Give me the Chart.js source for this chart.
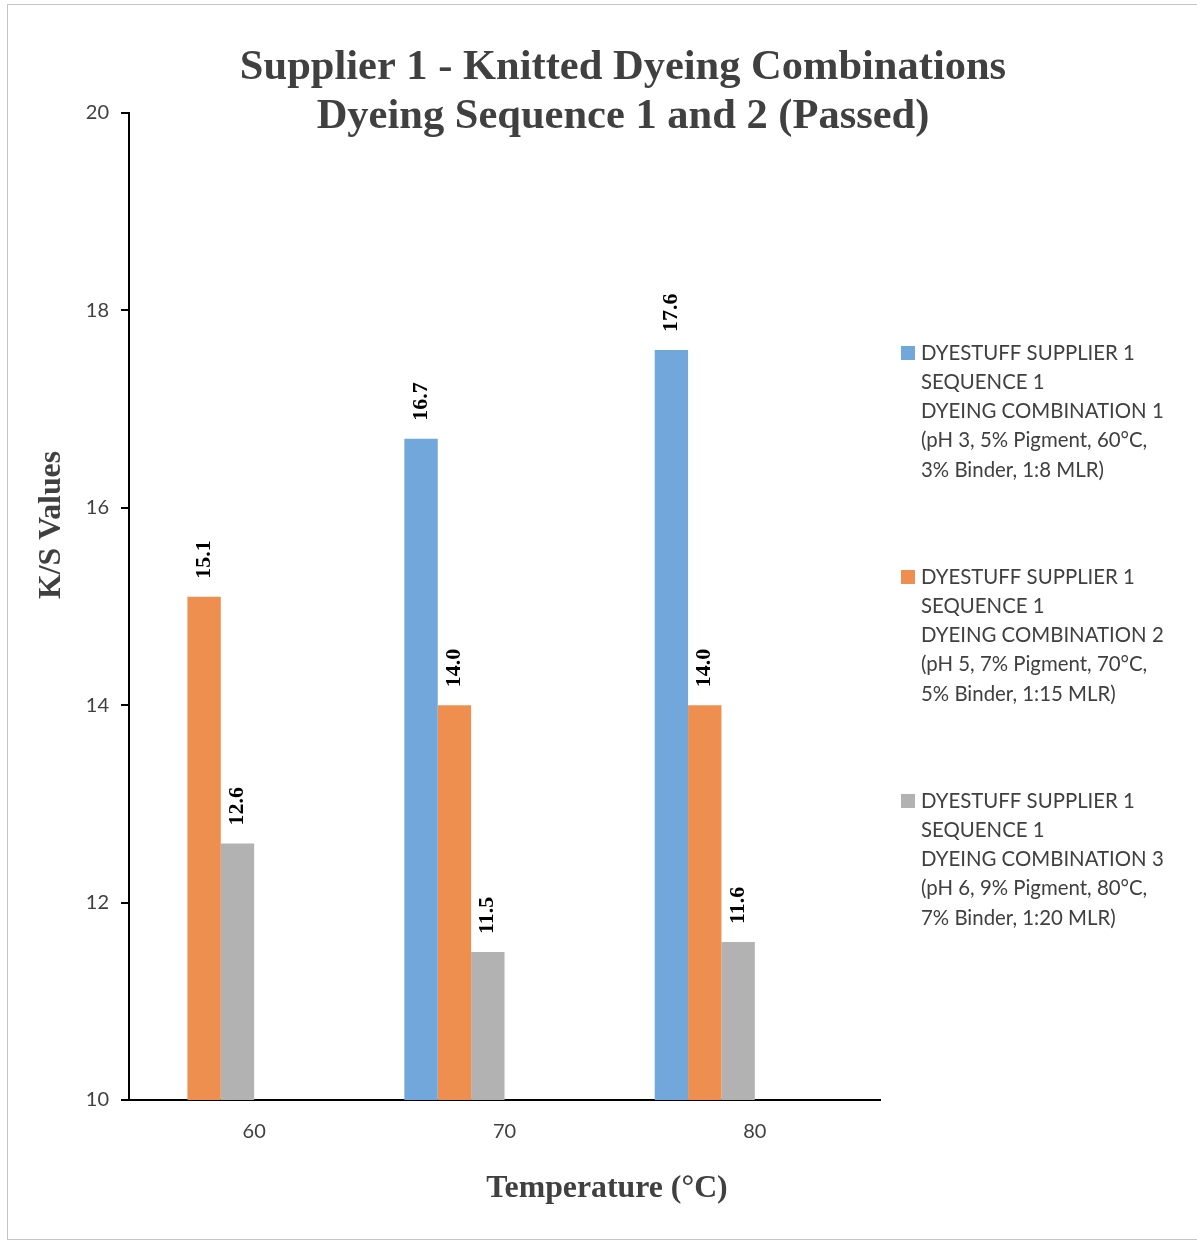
<!DOCTYPE html>
<html>
<head>
<meta charset="utf-8">
<script src="https://cdn.jsdelivr.net/npm/chart.js@4.4.1/dist/chart.umd.min.js"></script>
<style>
  html, body { margin: 0; padding: 0; background: #fff; }
  #wrap { width: 1197px; height: 1242px; }
</style>
</head>
<body>
<div id="wrap"><canvas id="ksChart"></canvas></div>
<script>
const temperatures = ["60", "70", "80"];

const seriesNames = [
  ["DYESTUFF SUPPLIER 1", "SEQUENCE 1", "DYEING COMBINATION 1", "(pH 3, 5% Pigment, 60°C,", "3% Binder, 1:8 MLR)"],
  ["DYESTUFF SUPPLIER 1", "SEQUENCE 1", "DYEING COMBINATION 2", "(pH 5, 7% Pigment, 70°C,", "5% Binder, 1:15 MLR)"],
  ["DYESTUFF SUPPLIER 1", "SEQUENCE 1", "DYEING COMBINATION 3", "(pH 6, 9% Pigment, 80°C,", "7% Binder, 1:20 MLR)"],
];

// K/S values per temperature
const combination1 = [null, 16.7, 17.6];
const combination2 = [15.1, 14.0, 14.0];
const combination3 = [12.6, 11.5, 11.6];
// sequence 2 series sit below the axis minimum
const sequence2a = [null, null, null];
const sequence2b = [null, null, null];
const sequence2c = [null, null, null];

const yTicks = { min: 10, max: 20, step: 2 };

const barColors = ["#71a7db", "#ef8f4f", "#b2b2b2"];
const textGray = "#404040";

const datasets = [
  { label: seriesNames[0], data: combination1, backgroundColor: barColors[0] },
  { label: seriesNames[1], data: combination2, backgroundColor: barColors[1] },
  { label: seriesNames[2], data: combination3, backgroundColor: barColors[2] },
  { label: "seq2-1", data: sequence2a, backgroundColor: barColors[0], hiddenEntry: true },
  { label: "seq2-2", data: sequence2b, backgroundColor: barColors[1], hiddenEntry: true },
  { label: "seq2-3", data: sequence2c, backgroundColor: barColors[2], hiddenEntry: true },
];

const frameAndText = {
  id: "frameAndText",
  beforeDraw(chart) {
    const c = chart.ctx;
    c.save();
    c.fillStyle = "#fff";
    c.fillRect(0, 0, chart.width, chart.height);
    c.strokeStyle = "#c4c4c4";
    c.lineWidth = 1;
    c.strokeRect(7.5, 4.5, chart.width, chart.height - 7);
    c.restore();
  },
  afterDraw(chart) {
    const c = chart.ctx;
    c.save();
    c.fillStyle = textGray;
    c.textAlign = "center";
    c.textBaseline = "middle";

    // title
    c.font = "bold 42.5px 'Liberation Serif'";
    c.fillText("Supplier 1 - Knitted Dyeing Combinations", 623, 68);
    c.fillText("Dyeing Sequence 1 and 2 (Passed)", 623, 117);

    // axis titles
    c.font = "bold 31.8px 'Liberation Serif'";
    c.fillText("Temperature (°C)", 607, 1189);
    c.save();
    c.translate(52, 525);
    c.rotate(-Math.PI / 2);
    c.fillText("K/S Values", 0, 0);
    c.restore();

    // value labels above each bar
    c.fillStyle = "#000";
    c.font = "bold 22px 'Liberation Serif'";
    c.textAlign = "left";
    chart.data.datasets.forEach((ds, i) => {
      const meta = chart.getDatasetMeta(i);
      meta.data.forEach((bar, j) => {
        const v = ds.data[j];
        if (v == null || v <= yTicks.min) return;
        c.save();
        c.translate(bar.x, bar.y - 18);
        c.rotate(-Math.PI / 2);
        c.fillText(v.toFixed(1), 0, 0);
        c.restore();
      });
    });

    // legend on the right
    c.font = "20.4px Lato";
    c.textBaseline = "middle";
    c.textAlign = "left";
    chart.data.datasets.forEach((ds, i) => {
      if (ds.hiddenEntry) return;
      const top = 353 + i * 224;
      c.fillStyle = ds.backgroundColor;
      c.fillRect(901, top - 7, 14, 14);
      c.fillStyle = textGray;
      ds.label.forEach((line, k) => {
        c.fillText(line, 921, top + k * 29.3);
      });
    });
    c.restore();
  },
};

new Chart(document.getElementById("ksChart"), {
  type: "bar",
  data: { labels: temperatures, datasets: datasets },
  plugins: [frameAndText],
  options: {
    responsive: true,
    maintainAspectRatio: false,
    animation: false,
    layout: { padding: { top: 113, right: 317, left: 0, bottom: 0 } },
    datasets: { bar: { categoryPercentage: 0.8, barPercentage: 1.0 } },
    plugins: { legend: { display: false }, title: { display: false }, tooltip: { enabled: false } },
    scales: {
      x: {
        grid: { drawOnChartArea: false, drawTicks: false },
        border: { display: true, color: "#000", width: 2 },
        ticks: { color: textGray, font: { family: "Lato", size: 20 }, padding: 20 },
        afterFit(scale) { scale.height = 142; },
      },
      y: {
        min: yTicks.min,
        max: yTicks.max,
        grid: { drawOnChartArea: false, drawTicks: true, tickLength: 8, color: "#000", lineWidth: 2 },
        border: { display: true, color: "#000", width: 2 },
        ticks: { stepSize: yTicks.step, color: textGray, font: { family: "Lato", size: 20 }, padding: 12 },
        afterFit(scale) { scale.width = 129; },
      },
    },
  },
});
</script>
</body>
</html>
